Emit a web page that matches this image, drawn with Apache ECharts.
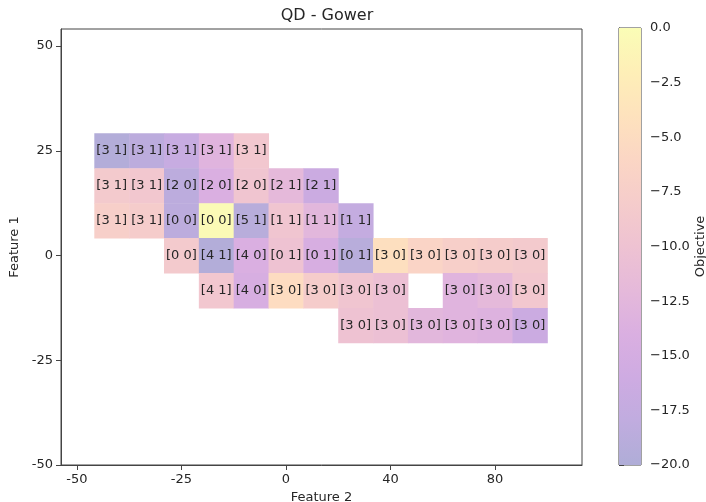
<!DOCTYPE html>
<html>
<head>
<meta charset="utf-8">
<script src="https://cdn.jsdelivr.net/npm/echarts@6/dist/echarts.min.js"></script>
<style>
  html, body { margin: 0; padding: 0; background: #fff; }
  #chart { width: 706px; height: 502px; }
</style>
</head>
<body>
<div id="chart"></div>
<script>
// Archive cells, one row per Feature 1 bin (top to bottom).
// Each row starts at a given Feature 2 column; null marks an empty cell.
const rowIndex = [3, 2, 1, 0, -1, -2];
const rowStartCol = [-5, -5, -5, -3, -2, 2];
const rowLabels = [
  ['[3 1]', '[3 1]', '[3 1]', '[3 1]', '[3 1]'],
  ['[3 1]', '[3 1]', '[2 0]', '[2 0]', '[2 0]', '[2 1]', '[2 1]'],
  ['[3 1]', '[3 1]', '[0 0]', '[0 0]', '[5 1]', '[1 1]', '[1 1]', '[1 1]'],
  ['[0 0]', '[4 1]', '[4 0]', '[0 1]', '[0 1]', '[0 1]', '[3 0]', '[3 0]', '[3 0]', '[3 0]', '[3 0]'],
  ['[4 1]', '[4 0]', '[3 0]', '[3 0]', '[3 0]', '[3 0]', null, '[3 0]', '[3 0]', '[3 0]'],
  ['[3 0]', '[3 0]', '[3 0]', '[3 0]', '[3 0]', '[3 0]']
];
const rowObjective = [
  [-19.5, -18.5, -17, -13, -9],
  [-8.5, -9, -18.5, -14, -9.5, -12, -16.5],
  [-7.5, -8, -18.5, -0.5, -19, -9.5, -12.5, -17.5],
  [-8.5, -19.5, -14, -10, -14.5, -19, -4.5, -6.5, -7.5, -8, -8.5],
  [-9, -14.5, -5, -8, -9.5, -10.5, null, -13, -12, -9],
  [-10, -10.5, -12.5, -13, -13.5, -16.5]
];

// Axis ticks: bins are a third of a major tick wide.
const binsPerTick = 3;
const tickStep = 25;
const xTickValues = [-50, -25, 0, 25, 50];
const xTickLabels = ['-50', '-25', '0', '40', '80'];
const yTickValues = [-50, -25, 0, 25, 50];
const objMin = -20, objMax = 0, objStep = 2.5;

// plasma colormap, drawn semi-transparent over white
const plasma = ['#0d0887', '#41049d', '#6a00a8', '#8f0da4', '#b12a90', '#cc4778',
                '#e16462', '#f2844b', '#fca636', '#fcce25', '#f0f921'];
const cellAlpha = 0.33;
function overWhite(hex, a) {
  const n = parseInt(hex.slice(1), 16);
  const ch = [(n >> 16) & 255, (n >> 8) & 255, n & 255].map(c => Math.round(255 - a * (255 - c)));
  return 'rgb(' + ch.join(',') + ')';
}
const cmap = plasma.map(c => overWhite(c, cellAlpha));

const cellSize = tickStep / binsPerTick;
const cells = [];
rowIndex.forEach((r, i) => {
  rowLabels[i].forEach((lab, j) => {
    if (lab === null) return;
    const col = rowStartCol[i] + j;
    cells.push([col * cellSize, r * cellSize, rowObjective[i][j], lab]);
  });
});

const font = 'DejaVu Sans';
const txt = '#262626';
const axisCol = '#444';

const chart = echarts.init(document.getElementById('chart'));
chart.setOption({
  animation: false,
  backgroundColor: '#fff',
  title: {
    text: 'QD - Gower', left: 322, top: 3, textAlign: 'center',
    textStyle: { fontFamily: font, fontSize: 16, fontWeight: 'normal', color: txt }
  },
  grid: [
    { left: 61, right: 124, top: 29, bottom: 37, show: true, borderColor: axisCol, borderWidth: 1,
      backgroundColor: 'transparent', outerBoundsMode: 'none', containLabel: false },
    { left: 619, width: 22, top: 28, bottom: 37, show: true, borderColor: axisCol, borderWidth: 1,
      backgroundColor: 'transparent', outerBoundsMode: 'none', containLabel: false }
  ],
  xAxis: [
    {
      gridIndex: 0, type: 'value', min: -53.8, max: 70.8,
      name: 'Feature 2', nameLocation: 'middle', nameGap: 19,
      nameTextStyle: { fontFamily: font, fontSize: 13, color: txt },
      axisLine: { show: true, onZero: false, lineStyle: { color: axisCol } },
      axisTick: { show: true, length: 5, lineStyle: { color: axisCol }, customValues: xTickValues },
      axisLabel: {
        fontFamily: font, fontSize: 13, color: txt, margin: 8,
        customValues: xTickValues,
        formatter: v => xTickLabels[xTickValues.indexOf(v)] || ''
      },
      splitLine: { show: false }
    },
    { gridIndex: 1, type: 'value', min: 0, max: 1, show: false }
  ],
  yAxis: [
    {
      gridIndex: 0, type: 'value', min: -50, max: 54.06,
      name: 'Feature 1', nameLocation: 'middle', nameGap: 33, nameRotate: 90,
      nameTextStyle: { fontFamily: font, fontSize: 13, color: txt },
      axisLine: { show: true, onZero: false, lineStyle: { color: axisCol } },
      axisTick: { show: true, length: 5, lineStyle: { color: axisCol }, customValues: yTickValues },
      axisLabel: { fontFamily: font, fontSize: 13, color: txt, margin: 8, customValues: yTickValues },
      splitLine: { show: false }
    },
    {
      gridIndex: 1, type: 'value', position: 'right', min: objMin, max: objMax, interval: objStep,
      name: 'Objective', nameLocation: 'middle', nameGap: 52, nameRotate: 90,
      nameTextStyle: { fontFamily: font, fontSize: 13, color: txt },
      axisLine: { show: true, lineStyle: { color: axisCol } },
      axisTick: { show: true, length: 5, lineStyle: { color: axisCol } },
      axisLabel: {
        fontFamily: font, fontSize: 13, color: txt, margin: 9,
        formatter: v => (v < 0 ? '\u2212' : '') + Math.abs(v).toFixed(1)
      },
      splitLine: { show: false }
    }
  ],
  visualMap: {
    show: false, type: 'continuous', min: objMin, max: objMax,
    seriesIndex: 0, dimension: 2, inRange: { color: cmap }
  },
  series: [
    {
      type: 'custom', xAxisIndex: 0, yAxisIndex: 0,
      encode: { x: 0, y: 1 },
      data: cells,
      renderItem: (params, api) => {
        const x = api.value(0), y = api.value(1);
        const h = cellSize / 2;
        const p0 = api.coord([x - h, y + h]);
        const p1 = api.coord([x + h, y - h]);
        const c = api.coord([x, y]);
        return {
          type: 'group',
          children: [
            { type: 'rect',
              shape: { x: p0[0], y: p0[1], width: p1[0] - p0[0] + 0.5, height: p1[1] - p0[1] + 0.5 },
              style: { fill: api.visual('color') } },
            { type: 'text', z2: 10,
              style: { text: cells[params.dataIndex][3], x: c[0], y: c[1], align: 'center', verticalAlign: 'middle',
                       font: '13px "DejaVu Sans"', fill: txt } }
          ]
        };
      }
    },
    {
      // colour bar
      type: 'custom', xAxisIndex: 1, yAxisIndex: 1,
      data: [[0, objMin, 1, objMax]],
      renderItem: (params, api) => {
        const a = api.coord([api.value(0), api.value(3)]);
        const b = api.coord([api.value(2), api.value(1)]);
        const stops = cmap.slice().reverse().map((col, i) => ({ offset: i / (cmap.length - 1), color: col }));
        return {
          type: 'rect',
          shape: { x: a[0], y: a[1], width: b[0] - a[0], height: b[1] - a[1] },
          style: { fill: new echarts.graphic.LinearGradient(0, 0, 0, 1, stops) }
        };
      }
    }
  ]
});
</script>
</body>
</html>
